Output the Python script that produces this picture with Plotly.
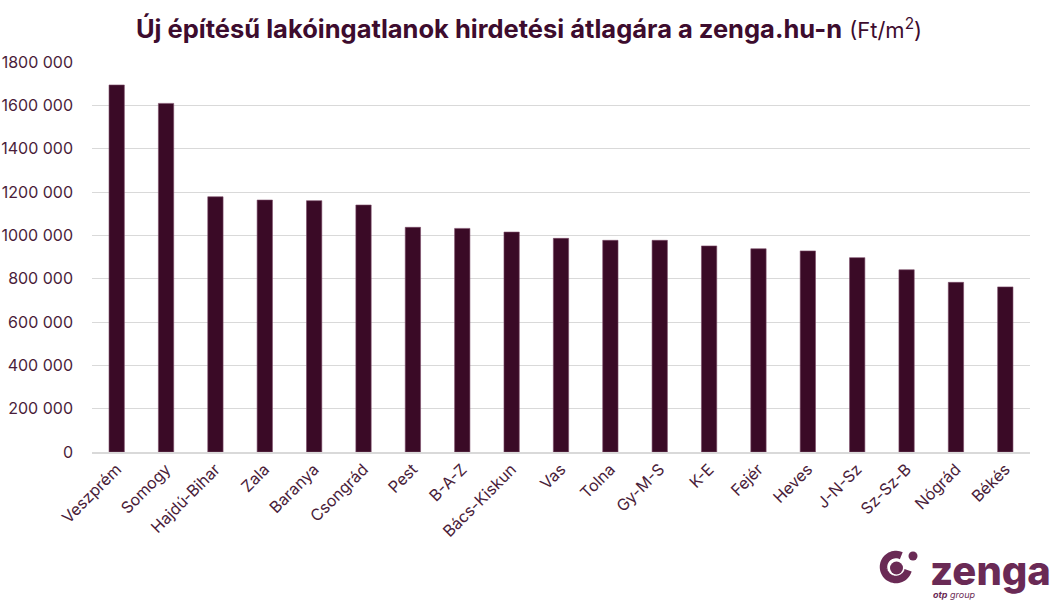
import math
import plotly.graph_objects as go

counties = ["Veszprém", "Somogy", "Hajdú-Bihar", "Zala", "Baranya", "Csongrád", "Pest", "B-A-Z",
            "Bács-Kiskun", "Vas", "Tolna", "Gy-M-S", "K-E", "Fejér", "Heves", "J-N-Sz", "Sz-Sz-B",
            "Nógrád", "Békés"]
prices = [1694000, 1609000, 1178000, 1163000, 1160000, 1140000, 1037000, 1032000,
          1015000, 986000, 977000, 977000, 951000, 938000, 928000, 897000, 841000,
          783000, 762000]
tick_vals = [0, 200000, 400000, 600000, 800000, 1000000, 1200000, 1400000, 1600000, 1800000]
tick_text = ["0", "200 000", "400 000", "600 000", "800 000", "1000 000", "1200 000",
             "1400 000", "1600 000", "1800 000"]

BAR = "#3a0a26"
TXT = "#4a1d3a"
LOGO = "#6a2a55"
FONT = "Inter"

fig = go.Figure(go.Bar(x=counties, y=prices, marker=dict(color=BAR, line=dict(color="#7a4a66", width=0.6)),
                       width=0.31, hoverinfo="x+y"))

fig.update_layout(
    width=1058, height=604,
    margin=dict(l=92, r=28, t=62, b=152, autoexpand=False),
    paper_bgcolor="white", plot_bgcolor="white",
    font=dict(family=FONT, color=TXT, size=14),
    showlegend=False,
    title=dict(
        text="<b>Új építésű lakóingatlanok hirdetési átlagára a zenga.hu-n</b> <span style='font-size:22px'>(Ft/m<sup>2</sup>)</span>",
        x=0.5, xanchor="center", y=0.952, yanchor="middle",
        font=dict(family=FONT, size=25.5, color="#3d0c2e"),
    ),
    xaxis=dict(tickangle=-45, showgrid=False, showline=True, linecolor="#d9d9d9", linewidth=1.5,
               ticks="", tickfont=dict(size=16, color=TXT), range=[-0.5, len(counties) - 0.5],
               automargin=False),
    yaxis=dict(range=[0, 1800000], tickvals=tick_vals, ticktext=tick_text, showgrid=True,
               gridcolor="#d9d9d9", gridwidth=1, zeroline=False, ticks="",
               tickfont=dict(size=16, color=TXT), ticklabelstandoff=18, automargin=False),
)

# zenga logo: ring + dots + wordmark (positioned in pixels relative to the plot area)
def px_x(px):
    return (px - 92) / 938

def px_y(py):
    return (452 - py) / 390

icx, icy = 896, 567
r = 12.5
angles = [65 + i * 280 / 48 for i in range(49)]
path = ""
for i, a in enumerate(angles):
    x = r * math.cos(math.radians(a))
    y = r * math.sin(math.radians(a))
    path += ("M" if i == 0 else "L") + f"{x:.2f},{y:.2f} "
fig.add_shape(type="path", path=path, xref="paper", yref="paper", xsizemode="pixel", ysizemode="pixel",
              xanchor=px_x(icx), yanchor=px_y(icy), line=dict(color=LOGO, width=7.5))
fig.add_shape(type="circle", xref="paper", yref="paper", xsizemode="pixel", ysizemode="pixel",
              xanchor=px_x(icx), yanchor=px_y(icy),
              x0=-6, x1=7, y0=-7.5, y1=5.5, fillcolor=LOGO, line=dict(width=0))
fig.add_shape(type="circle", xref="paper", yref="paper", xsizemode="pixel", ysizemode="pixel",
              xanchor=px_x(icx), yanchor=px_y(icy),
              x0=12.5, x1=21.5, y0=6.5, y1=15.5, fillcolor=LOGO, line=dict(width=0))
fig.add_annotation(text="zenga", xref="paper", yref="paper", x=px_x(928), y=px_y(570),
                   xanchor="left", yanchor="middle", showarrow=False,
                   font=dict(family=FONT, size=40, color=LOGO, weight=800))
fig.add_annotation(text="<i><b>otp</b> group</i>", xref="paper", yref="paper", x=px_x(931),
                   y=px_y(594), xanchor="left", yanchor="middle", showarrow=False,
                   font=dict(family=FONT, size=9, color=LOGO))

fig.write_html("out.html")
